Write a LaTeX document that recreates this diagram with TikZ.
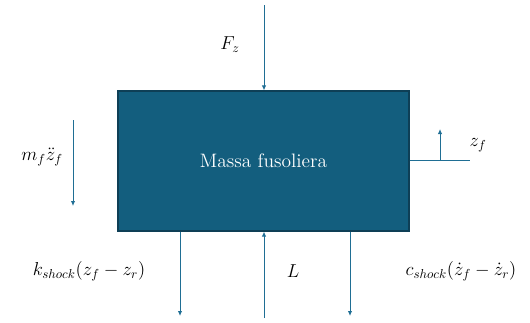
\documentclass[tikz,border=0pt]{standalone}
\usetikzlibrary{arrows.meta}
\definecolor{boxfill}{HTML}{135E7E}
\definecolor{boxedge}{HTML}{0E3F56}
\definecolor{arr}{HTML}{1F6E94}
\begin{document}
\begin{tikzpicture}[x=1pt,y=-1pt,
  force/.style={draw=arr,line width=1pt,-{Latex[length=5pt,width=4.5pt]}},
  plain/.style={draw=arr,line width=1pt},
  lbl/.style={font=\Large,inner sep=0pt,scale=1.3}]
\useasboundingbox (0,0) rectangle (530,322);
\node[draw=boxedge,line width=1.2pt,fill=boxfill,minimum width=291pt,minimum height=140pt,inner sep=0pt] (box) at (263.5,161) {};
\node[text=white,font=\Large,scale=1.35,inner sep=0pt] (boxtxt) at (box.center) {Massa fusoliera};
% top force
\coordinate (fzs) at (264,5);
\draw[force] (fzs) -- (fzs|-box.north);
\node[lbl] (fz) at (230,45) {$F_z$};
% inertia
\coordinate (ms) at (73,120);
\coordinate (me) at (73,206);
\draw[force] (ms) -- (me);
\node[lbl] (mf) at (42,157) {$m_f\ddot{z}_f$};
% zf reference
\coordinate (zr) at (470,160);
\draw[plain] (box.east|-zr) -- (zr);
\coordinate (zb) at (440,160);
\coordinate (zt) at (440,129);
\draw[force] (zb) -- (zt);
\node[lbl] (zf) at (478,145) {$z_f$};
% bottom forces
\coordinate (k1) at (180,316);
\draw[force] (k1|-box.south) -- (k1);
\coordinate (l1) at (264,318);
\draw[force] (l1) -- (l1|-box.south);
\coordinate (c1) at (350,316);
\draw[force] (c1|-box.south) -- (c1);
\node[lbl] (kl) at (89,271) {$k_{shock}(z_f-z_r)$};
\node[lbl] (ll) at (293,271) {$L$};
\node[lbl] (cl) at (461,271) {$c_{shock}(\dot{z}_f-\dot{z}_r)$};
\end{tikzpicture}
\end{document}
